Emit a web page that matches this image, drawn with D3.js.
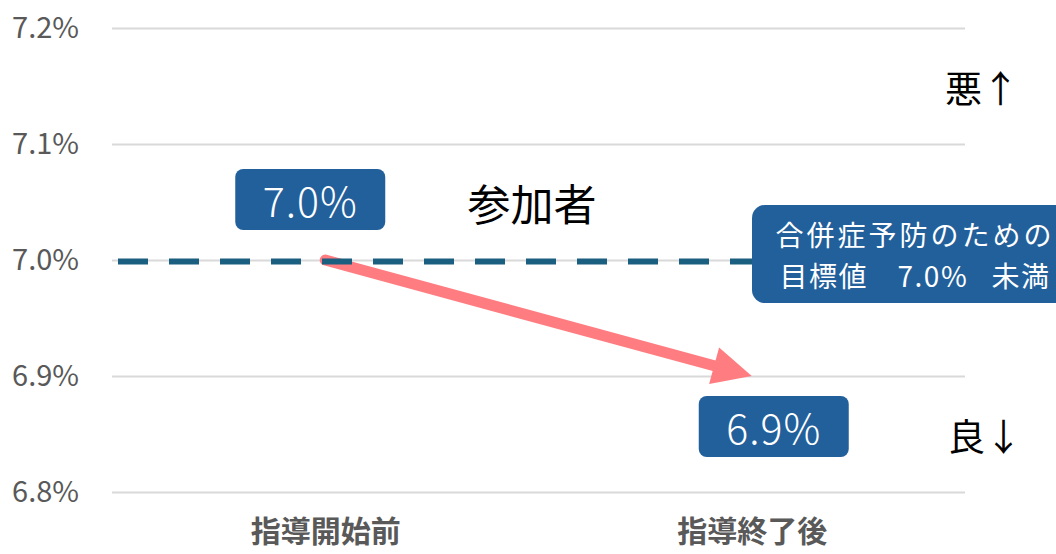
<!DOCTYPE html>
<html>
<head>
<meta charset="utf-8">
<script src="https://cdn.jsdelivr.net/npm/d3@7"></script>
<style>
  body { margin: 0; background: #fff; }
  text { font-family: "Noto Sans CJK JP", "Noto Sans", sans-serif; }
</style>
</head>
<body>
<div id="chart"></div>
<script>
// data
const categories = ["指導開始前", "指導終了後"];
const values = [7.0, 6.9];
const valueLabels = ["7.0%", "6.9%"];
const yTicks = [6.8, 6.9, 7.0, 7.1, 7.2];
const target = 7.0;
const targetLines = ["合併症予防のための", "目標値\u30007.0%\u2002 未満"];
const seriesName = "参加者";

const W = 1056, H = 554;
const margin = {top: 28, right: 91, bottom: 62, left: 112},
    width = W - margin.left - margin.right,
    height = H - margin.top - margin.bottom;

const svg = d3.select("#chart")
  .append("svg")
    .attr("width", W)
    .attr("height", H);

const g = svg.append("g")
    .attr("transform", `translate(${margin.left},${margin.top})`);

const x = d3.scalePoint()
    .domain(categories)
    .range([0, width])
    .padding(0.5);

const y = d3.scaleLinear()
    .domain([6.8, 7.2])
    .range([height, 0]);

// y axis with gridlines
const yAxis = g.append("g")
    .call(d3.axisLeft(y)
      .tickValues(yTicks)
      .tickFormat(d => d.toFixed(1) + "%")
      .tickSizeInner(-width)
      .tickSizeOuter(0)
      .tickPadding(33));
yAxis.select(".domain").remove();
yAxis.selectAll(".tick line")
    .attr("stroke", "#d9d9d9")
    .attr("stroke-width", 2);
yAxis.selectAll(".tick text")
    .attr("fill", "#595959")
    .style("font-size", "29px")
    .style("font-family", "'Noto Sans CJK JP', sans-serif");

// x axis labels
const xAxis = g.append("g")
    .attr("transform", `translate(0,${height})`)
    .call(d3.axisBottom(x).tickSize(0).tickPadding(29));
xAxis.select(".domain").remove();
xAxis.selectAll(".tick text")
    .attr("fill", "#595959")
    .style("font-size", "30px")
    .style("font-weight", "bold")
    .style("font-family", "'Noto Sans CJK JP', sans-serif");

// arrow from first to second value
const p0 = [x(categories[0]), y(values[0])];
const p1 = [x(categories[1]), y(values[1])];
const ang = Math.atan2(p1[1] - p0[1], p1[0] - p0[0]);
const headLen = 39, headHalf = 19;
const base = [p1[0] - headLen * Math.cos(ang), p1[1] - headLen * Math.sin(ang)];

g.append("line")
    .attr("x1", p0[0]).attr("y1", p0[1])
    .attr("x2", base[0] + 2 * Math.cos(ang)).attr("y2", base[1] + 2 * Math.sin(ang))
    .attr("stroke", "#ff7c80")
    .attr("stroke-width", 11)
    .attr("stroke-linecap", "round");

g.append("path")
    .attr("d", d3.line()([
      p1,
      [base[0] + headHalf * Math.sin(ang), base[1] - headHalf * Math.cos(ang)],
      [base[0] - headHalf * Math.sin(ang), base[1] + headHalf * Math.cos(ang)]
    ]) + "Z")
    .attr("fill", "#ff7c80");

// target dashed line
g.append("line")
    .attr("x1", 6).attr("x2", 650)
    .attr("y1", y(target) + 1.5).attr("y2", y(target) + 1.5)
    .attr("stroke", "#1a5e80")
    .attr("stroke-width", 6)
    .attr("stroke-dasharray", "30,21");

// value label boxes
const boxOffsets = [[-15, -61], [22, 50]];
categories.forEach((c, i) => {
  const cx = x(c) + boxOffsets[i][0], cy = y(values[i]) + boxOffsets[i][1];
  g.append("rect")
      .attr("x", cx - 75).attr("y", cy - 30)
      .attr("width", 150).attr("height", 61)
      .attr("rx", 8)
      .attr("fill", "#22609b");
  g.append("text")
      .attr("x", cx).attr("y", cy)
      .attr("text-anchor", "middle")
      .attr("dominant-baseline", "central")
      .attr("fill", "#fff")
      .style("font-size", "41px")
      .style("font-weight", 300)
      .style("letter-spacing", "1px")
      .text(valueLabels[i]);
});

// series name
g.append("text")
    .attr("x", 532 - margin.left).attr("y", 202 - margin.top)
    .attr("text-anchor", "middle")
    .attr("dominant-baseline", "central")
    .attr("fill", "#000")
    .style("font-size", "43px")
    .text(seriesName);

// target box
const tb = g.append("g")
    .attr("transform", `translate(${752 - margin.left},${y(target) - 55})`);
tb.append("rect")
    .attr("width", 330).attr("height", 98)
    .attr("rx", 13)
    .attr("fill", "#22609b");
tb.selectAll("text.tl")
  .data(targetLines)
  .enter()
  .append("text")
    .attr("class", "tl")
    .attr("x", 163)
    .attr("y", (d, i) => 29 + i * 41)
    .attr("text-anchor", "middle")
    .attr("dominant-baseline", "central")
    .attr("fill", "#fff")
    .style("font-size", "28px")
    .style("letter-spacing", (d, i) => i === 0 ? "3px" : "1.5px")
    .style("white-space", "pre")
    .text(d => d);

// worse / better hints
g.append("text")
    .attr("x", 982 - margin.left).attr("y", 87 - margin.top)
    .attr("text-anchor", "middle")
    .attr("dominant-baseline", "central")
    .style("font-size", "37px")
    .text("悪↑");
g.append("text")
    .attr("x", 985 - margin.left).attr("y", 435 - margin.top)
    .attr("text-anchor", "middle")
    .attr("dominant-baseline", "central")
    .style("font-size", "37px")
    .text("良↓");
</script>
</body>
</html>
